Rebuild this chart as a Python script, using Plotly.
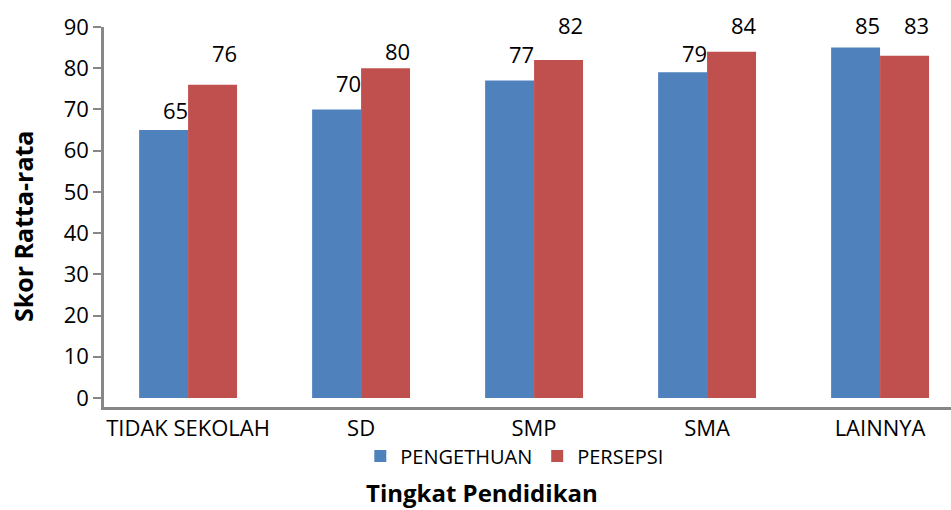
import plotly.graph_objects as go

# Average scores by education level
categories = ["TIDAK SEKOLAH", "SD", "SMP", "SMA", "LAINNYA"]
pengetahuan = [65, 70, 77, 79, 85]
persepsi = [76, 80, 82, 84, 83]
y_ticks = [0, 10, 20, 30, 40, 50, 60, 70, 80, 90]

# Vertical offsets (px) of each value label above its bar top
pengetahuan_label_lift = [20, 26, 27, 19, 23]
persepsi_label_lift = [32, 17, 35, 27, 31]

BLUE = "#4F81BD"
RED = "#C0504D"
AXIS = "#878787"
FONT = "Open Sans"

fig = go.Figure()
fig.add_trace(go.Bar(name="PENGETHUAN", x=categories, y=pengetahuan,
                     marker=dict(color=BLUE, line=dict(width=0))))
fig.add_trace(go.Bar(name="PERSEPSI", x=categories, y=persepsi,
                     marker=dict(color=RED, line=dict(width=0))))

bargap = 0.434
half = (1 - bargap) / 4  # centre offset of each bar within its group

annotations = []
for i, (v, lift) in enumerate(zip(pengetahuan, pengetahuan_label_lift)):
    annotations.append(dict(x=i - half, y=v, xref="x", yref="y", text=str(v),
                            showarrow=False, xshift=12, yshift=lift,
                            yanchor="middle",
                            font=dict(family=FONT, size=22, color="#000")))
for i, (v, lift) in enumerate(zip(persepsi, persepsi_label_lift)):
    annotations.append(dict(x=i + half, y=v, xref="x", yref="y", text=str(v),
                            showarrow=False, xshift=12, yshift=lift,
                            yanchor="middle",
                            font=dict(family=FONT, size=22, color="#000")))

# Axis titles
annotations.append(dict(text="<b>Tingkat Pendidikan</b>", xref="paper", yref="paper",
                        x=0.446, y=-0.2237, xanchor="center", yanchor="middle",
                        showarrow=False, font=dict(family=FONT, size=24, color="#000")))
annotations.append(dict(text="<b>Skor Ratta-rata</b>", xref="paper", yref="paper",
                        x=-0.0956, y=0.4737, xanchor="center", yanchor="middle",
                        textangle=-90, showarrow=False,
                        font=dict(family=FONT, size=25, color="#000")))

fig.update_layout(
    width=951, height=510,
    margin=dict(l=104, r=0, t=27, b=103),
    paper_bgcolor="white", plot_bgcolor="white",
    barmode="group", bargap=bargap, bargroupgap=0,
    font=dict(family=FONT, size=22, color="#000"),
    showlegend=True,
    legend=dict(orientation="h", x=0.485, xanchor="center",
                y=-0.129, yanchor="middle",
                font=dict(family=FONT, size=20, color="#000"),
                bgcolor="rgba(0,0,0,0)"),
    annotations=annotations,
)
fig.update_xaxes(range=[-0.486, 4.41], showline=True, linecolor=AXIS, linewidth=3,
                 ticks="", showgrid=False, zeroline=False,
                 tickfont=dict(family=FONT, size=22, color="#000"))
fig.update_yaxes(range=[-2.2, 90], tickvals=y_ticks, showline=True, linecolor=AXIS,
                 linewidth=2.5, ticks="outside", ticklen=8, tickwidth=2, tickcolor=AXIS,
                 showgrid=False, zeroline=False,
                 tickfont=dict(family=FONT, size=22, color="#000"))

fig.write_html("out.html")
